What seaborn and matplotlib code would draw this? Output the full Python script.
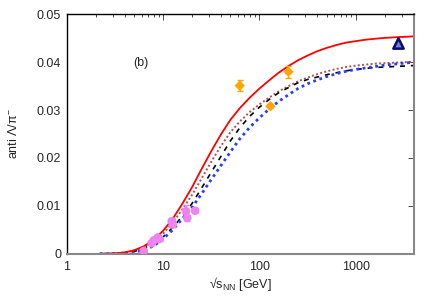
import numpy as np
import pandas as pd
import matplotlib
matplotlib.use("Agg")
import matplotlib.pyplot as plt
import seaborn as sns

# ---- model curves ----
energy = [2.2, 2.51, 3.16, 3.98, 5.01, 6.31, 7.94, 10.0, 12.6, 15.8, 20.0, 25.1, 31.6, 39.8,
          50.1, 63.1, 79.4, 100, 126, 158, 200, 251, 316, 398, 501, 631, 794, 1000,
          1259, 1585, 1995, 2512, 3162, 3981]

red_y = [0.0, 0.00002, 0.00008, 0.00028, 0.00073, 0.00156, 0.0029, 0.0048, 0.0073, 0.0104,
         0.0139, 0.0177, 0.0214, 0.0249, 0.0280, 0.0305, 0.0326, 0.0345, 0.0362, 0.0378,
         0.0392, 0.0404, 0.0414, 0.0423, 0.0430, 0.0436, 0.0441, 0.0444, 0.0447, 0.0449,
         0.04508, 0.0452, 0.0453, 0.0454]

brown_y = [0.0, 0.00002, 0.00007, 0.00025, 0.00065, 0.00138, 0.0026, 0.0042, 0.0065, 0.0092,
           0.0123, 0.0157, 0.0192, 0.0225, 0.0254, 0.0277, 0.0296, 0.0312, 0.0326, 0.0339,
           0.0350, 0.0360, 0.0368, 0.0375, 0.0381, 0.0386, 0.0390, 0.0393, 0.0395, 0.0397,
           0.0398, 0.0399, 0.0400, 0.0401]

black_y = [0.0, 0.00001, 0.00005, 0.00018, 0.00048, 0.0011, 0.0021, 0.0035, 0.0055, 0.0078,
           0.0105, 0.0137, 0.0170, 0.0203, 0.0236, 0.0264, 0.0287, 0.0306, 0.0322, 0.0336,
           0.0347, 0.0357, 0.0364, 0.0369, 0.0374, 0.0378, 0.0382, 0.0385, 0.0387, 0.0389,
           0.0390, 0.0391, 0.0392, 0.0393]

blue_y = [0.0, 0.00001, 0.00003, 0.0001, 0.0003, 0.0008, 0.0016, 0.0031, 0.0050, 0.0073,
          0.0097, 0.0125, 0.0155, 0.0184, 0.0213, 0.0241, 0.0264, 0.0284, 0.0302, 0.0318,
          0.0332, 0.0345, 0.0355, 0.0363, 0.0370, 0.0376, 0.0381, 0.0385, 0.0388, 0.0391,
          0.0394, 0.0396, 0.0398, 0.0400]

# ---- data points ----
sps_x = [6.3, 7.6, 8.0, 8.8, 9.2, 12.3, 12.6, 17.3, 17.8, 21.5]
sps_y = [0.0006, 0.0022, 0.0028, 0.0034, 0.0031, 0.0068, 0.0061, 0.0089, 0.0075, 0.0090]
sps_err = [0.0002, 0.0004, 0.0004, 0.0004, 0.0004, 0.0006, 0.0005, 0.0013, 0.0006, 0.0005]

rhic_x = [62.4, 130, 200]
rhic_y = [0.0351, 0.0308, 0.0380]
rhic_err = [0.0011, 0.0004, 0.0013]

lhc_x = [2760]
lhc_y = [0.0440]

curves = pd.concat([
    pd.DataFrame({"s": energy, "r": red_y, "model": "red"}),
    pd.DataFrame({"s": energy, "r": brown_y, "model": "brown"}),
    pd.DataFrame({"s": energy, "r": black_y, "model": "black"}),
    pd.DataFrame({"s": energy, "r": blue_y, "model": "blue"}),
], ignore_index=True)

sns.set_style("white")
plt.rcParams['font.family'] = ['Liberation Sans', 'DejaVu Sans']

fig = plt.figure(figsize=(4.36, 3.05), dpi=100)
ax = fig.add_axes([0.153, 0.168, 0.796, 0.785])

styles = {
    "red": dict(color="#ff0000", ls="-", lw=1.3),
    "brown": dict(color="#b05050", ls=(0, (1, 1.2)), lw=1.4),
    "black": dict(color="#000000", ls=(0, (3, 3.5)), lw=1.2),
    "blue": dict(color="#2a3cff", ls=(0, (1, 1.3)), lw=2.0),
}
for name in ["brown", "black", "blue", "red"]:
    st = styles[name]
    sns.lineplot(data=curves[curves.model == name], x="s", y="r", ax=ax,
                 color=st["color"], linestyle=st["ls"], linewidth=st["lw"],
                 legend=False, estimator=None, sort=False)

ax.errorbar(sps_x, sps_y, yerr=sps_err, fmt="none", ecolor="#ee82ee", elinewidth=1, capsize=2, zorder=4)
sns.scatterplot(x=sps_x, y=sps_y, ax=ax, color="#ee82ee", s=38, edgecolor="none", zorder=5, legend=False)

ax.errorbar(rhic_x, rhic_y, yerr=rhic_err, fmt="none", ecolor="#ffa500", elinewidth=1, capsize=2.5, zorder=4)
sns.scatterplot(x=rhic_x, y=rhic_y, ax=ax, color="#ffa500", marker="D", s=28, edgecolor="none", zorder=5, legend=False)

sns.scatterplot(x=lhc_x, y=lhc_y, ax=ax, marker="^", s=55, color="#7080d0",
                edgecolor="#0a0a70", linewidth=1.8, zorder=6, legend=False)

ax.set_xscale("log")
ax.set_xlim(1, 4000)
ax.set_ylim(0, 0.05)
ax.set_yticks([0, 0.01, 0.02, 0.03, 0.04, 0.05])
ax.set_yticklabels(["0", "0.01", "0.02", "0.03", "0.04", "0.05"])
ax.set_xticks([1, 10, 100, 1000])
ax.set_xticklabels(["1", "10", "100", "1000"])
ax.tick_params(axis="both", which="both", direction="in", top=True, right=True,
               labelsize=9, color="#333333")
ax.tick_params(axis="both", which="major", length=4, width=0.6)
ax.tick_params(axis="x", which="minor", length=2, width=0.6)
ax.tick_params(axis="x", which="major", pad=5)
ax.tick_params(axis="y", which="major", pad=4)

for side in ["left", "top"]:
    ax.spines[side].set_color("black")
    ax.spines[side].set_linewidth(1.0)
for side in ["right", "bottom"]:
    ax.spines[side].set_color("#888888")
    ax.spines[side].set_linewidth(1.5)

ax.set_xlabel("√s$_{\\mathregular{NN}}$ [GeV]", fontsize=9, labelpad=2)
ax.set_ylabel("anti Λ/π$^{\\mathregular{-}}$", fontsize=9, labelpad=12)
ax.text(5.9, 0.0398, "(b)", fontsize=9, ha="center", va="center")

fig.savefig("out.png", dpi=100)
